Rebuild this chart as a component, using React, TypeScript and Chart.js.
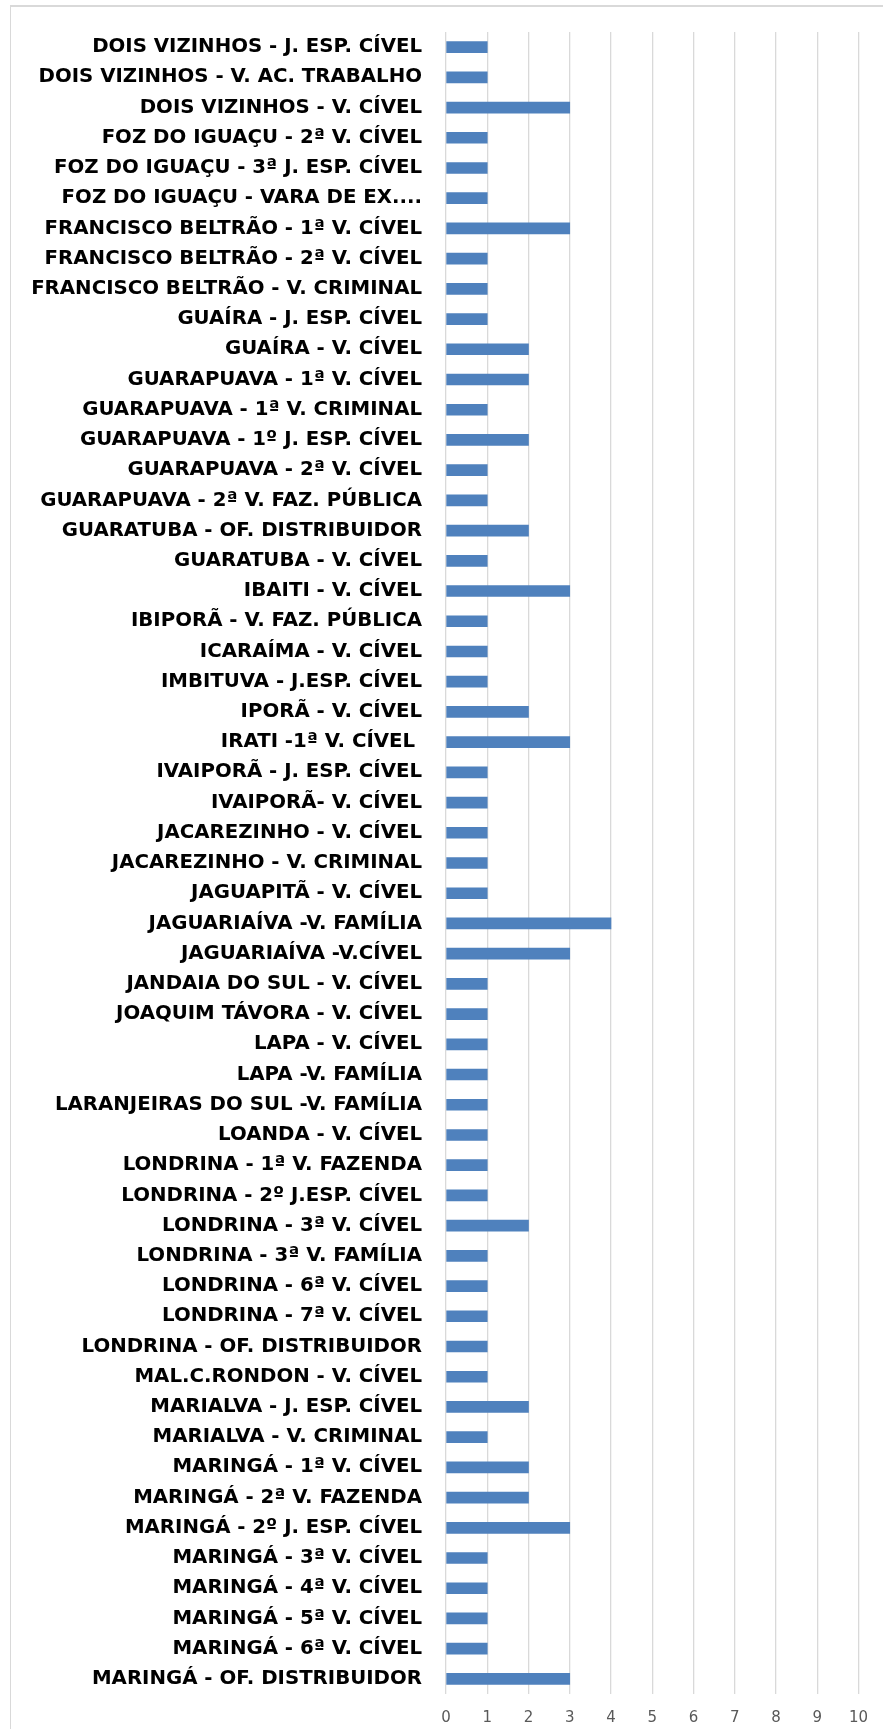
import React, { useEffect, useRef } from "react";
import { Chart, registerables } from "chart.js";

Chart.register(...registerables);

const categories: string[] = [
  "DOIS VIZINHOS - J. ESP. CÍVEL",
  "DOIS VIZINHOS - V. AC. TRABALHO",
  "DOIS VIZINHOS - V. CÍVEL",
  "FOZ DO IGUAÇU - 2ª V. CÍVEL",
  "FOZ DO IGUAÇU - 3ª J. ESP. CÍVEL",
  "FOZ DO IGUAÇU - VARA DE EX....",
  "FRANCISCO BELTRÃO - 1ª V. CÍVEL",
  "FRANCISCO BELTRÃO - 2ª V. CÍVEL",
  "FRANCISCO BELTRÃO - V. CRIMINAL",
  "GUAÍRA - J. ESP. CÍVEL",
  "GUAÍRA - V. CÍVEL",
  "GUARAPUAVA - 1ª V. CÍVEL",
  "GUARAPUAVA - 1ª V. CRIMINAL",
  "GUARAPUAVA - 1º J. ESP. CÍVEL",
  "GUARAPUAVA - 2ª V. CÍVEL",
  "GUARAPUAVA - 2ª V. FAZ. PÚBLICA",
  "GUARATUBA - OF. DISTRIBUIDOR",
  "GUARATUBA - V. CÍVEL",
  "IBAITI - V. CÍVEL",
  "IBIPORÃ - V. FAZ. PÚBLICA",
  "ICARAÍMA - V. CÍVEL",
  "IMBITUVA - J.ESP. CÍVEL",
  "IPORÃ - V. CÍVEL",
  "IRATI -1ª V. CÍVEL ",
  "IVAIPORÃ - J. ESP. CÍVEL",
  "IVAIPORÃ- V. CÍVEL",
  "JACAREZINHO - V. CÍVEL",
  "JACAREZINHO - V. CRIMINAL",
  "JAGUAPITÃ - V. CÍVEL",
  "JAGUARIAÍVA -V. FAMÍLIA",
  "JAGUARIAÍVA -V.CÍVEL",
  "JANDAIA DO SUL - V. CÍVEL",
  "JOAQUIM TÁVORA - V. CÍVEL",
  "LAPA - V. CÍVEL",
  "LAPA -V. FAMÍLIA",
  "LARANJEIRAS DO SUL -V. FAMÍLIA",
  "LOANDA - V. CÍVEL",
  "LONDRINA - 1ª V. FAZENDA",
  "LONDRINA - 2º J.ESP. CÍVEL",
  "LONDRINA - 3ª V. CÍVEL",
  "LONDRINA - 3ª V. FAMÍLIA",
  "LONDRINA - 6ª V. CÍVEL",
  "LONDRINA - 7ª V. CÍVEL",
  "LONDRINA - OF. DISTRIBUIDOR",
  "MAL.C.RONDON - V. CÍVEL",
  "MARIALVA - J. ESP. CÍVEL",
  "MARIALVA - V. CRIMINAL",
  "MARINGÁ - 1ª V. CÍVEL",
  "MARINGÁ - 2ª V. FAZENDA",
  "MARINGÁ - 2º J. ESP. CÍVEL",
  "MARINGÁ - 3ª V. CÍVEL",
  "MARINGÁ - 4ª V. CÍVEL",
  "MARINGÁ - 5ª V. CÍVEL",
  "MARINGÁ - 6ª V. CÍVEL",
  "MARINGÁ - OF. DISTRIBUIDOR",
];

const values: number[] = [
  1, 1, 3, 1, 1, 1, 3, 1, 1, 1,
  2, 2, 1, 2, 1, 1, 2, 1, 3, 1,
  1, 1, 2, 3, 1, 1, 1, 1, 1, 4,
  3, 1, 1, 1, 1, 1, 1, 1, 1, 2,
  1, 1, 1, 1, 1, 2, 1, 2, 2, 3,
  1, 1, 1, 1, 3,
];

const xMin = 0;
const xMax = 10;
const xStep = 1;

export default function App() {
  const canvasRef = useRef<HTMLCanvasElement | null>(null);

  useEffect(() => {
    if (!canvasRef.current) return;
    const chart = new Chart(canvasRef.current, {
      type: "bar",
      data: {
        labels: categories,
        datasets: [
          {
            data: values,
            backgroundColor: "#4F81BD",
            borderWidth: 0,
            barThickness: 11,
          },
        ],
      },
      options: {
        indexAxis: "y",
        responsive: false,
        maintainAspectRatio: false,
        animation: false,
        layout: { padding: { top: 32, right: 24, bottom: 0, left: 0 } },
        plugins: {
          legend: { display: false },
          tooltip: { enabled: false },
        },
        scales: {
          x: {
            min: xMin,
            max: xMax,
            ticks: {
              stepSize: xStep,
              padding: 15,
              color: "#595959",
              font: { family: "'DejaVu Sans'", size: 15 },
            },
            grid: { color: "#d9d9d9", lineWidth: 1.3, drawTicks: false },
            border: { display: false },
            afterFit: (scale: any) => {
              scale.height = 35;
            },
          },
          y: {
            ticks: {
              padding: 24,
              color: "#000000",
              autoSkip: false,
              font: { family: "'DejaVu Sans'", size: 19.75, weight: "bold" },
            },
            grid: { display: false, drawTicks: false },
            border: { display: false },
            afterFit: (scale: any) => {
              scale.width = 446;
              scale.paddingTop = 0;
              scale.paddingBottom = 0;
            },
          },
        },
      },
    });
    return () => chart.destroy();
  }, []);

  return (
    <div style={{ position: "absolute", left: 0, top: 0, width: 883, height: 1729, background: "#fff", overflow: "hidden" }}>
      <div
        style={{
          position: "absolute",
          left: 10,
          top: 5,
          width: 900,
          height: 1800,
          borderLeft: "1px solid #d9d9d9",
          borderTop: "2px solid #d9d9d9",
        }}
      />
      <canvas ref={canvasRef} width={883} height={1729} style={{ position: "absolute", left: 0, top: 0 }} />
    </div>
  );
}
